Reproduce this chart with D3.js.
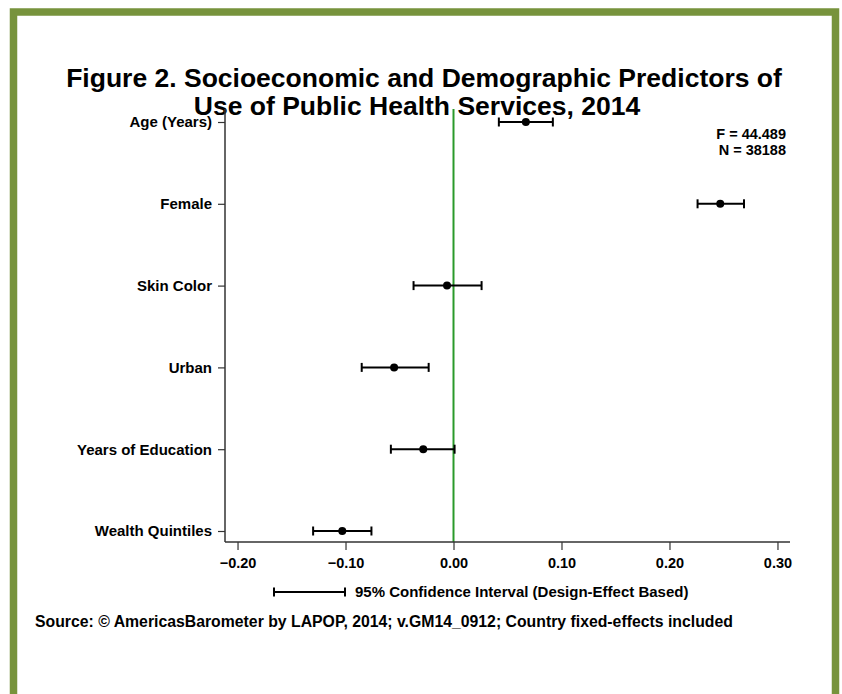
<!DOCTYPE html>
<html>
<head>
<meta charset="utf-8">
<script src="https://cdn.jsdelivr.net/npm/d3@7"></script>
<style>
  html, body { margin: 0; padding: 0; background: #fff; }
  svg { display: block; font-family: "Liberation Sans", Arial, sans-serif; }
</style>
</head>
<body>
<svg id="chart" width="842" height="694"></svg>
<script>
// Predictors (top to bottom) with coefficient and 95% CI bounds
const predictors = ["Age (Years)", "Female", "Skin Color", "Urban", "Years of Education", "Wealth Quintiles"];
const coefficients = [0.067, 0.247, -0.006, -0.055, -0.028, -0.103];
const ciLower = [0.042, 0.226, -0.037, -0.085, -0.058, -0.130];
const ciUpper = [0.092, 0.269, 0.026, -0.023, 0.001, -0.076];
const xTicks = [-0.20, -0.10, 0.00, 0.10, 0.20, 0.30];
const statsLines = ["F = 44.489", "N = 38188"];

const svg = d3.select("#chart");

// Olive frame around the figure (open at the bottom of the page)
svg.append("path")
  .attr("d", "M13.5,700 L13.5,12 L835.5,12 L835.5,700")
  .attr("fill", "none")
  .attr("stroke", "#77933c")
  .attr("stroke-width", 7.5);

// Title
const title = svg.append("text")
  .attr("text-anchor", "middle")
  .attr("font-weight", "bold")
  .attr("font-size", 26.5)
  .attr("fill", "#000");
title.append("tspan").attr("x", 424).attr("y", 87).text("Figure 2. Socioeconomic and Demographic Predictors of");
title.append("tspan").attr("x", 417).attr("y", 114.5).text("Use of Public Health Services, 2014");

// Plot area
const plotLeft = 225, plotRight = 790, plotTop = 109, plotBottom = 542;
const x = d3.scaleLinear().domain([-0.2116, 0.3116]).range([plotLeft, plotRight]);
const y = d3.scalePoint().domain(predictors).range([122, 531]);

// Zero reference line
svg.append("line")
  .attr("x1", x(0)).attr("x2", x(0))
  .attr("y1", plotTop).attr("y2", plotBottom)
  .attr("stroke", "#2a9a2a")
  .attr("stroke-width", 2);

const labelFont = "'Liberation Sans', Arial, sans-serif";

// Y axis
const yAxis = svg.append("g")
  .attr("transform", `translate(${plotLeft},0)`)
  .call(d3.axisLeft(y).tickSize(7).tickPadding(6).tickSizeOuter(0));
yAxis.select(".domain").remove();
yAxis.append("line").attr("x1", 0).attr("x2", 0).attr("y1", plotTop).attr("y2", plotBottom)
  .attr("stroke", "#333").attr("stroke-width", 1.5);
yAxis.selectAll(".tick line").attr("stroke", "#333").attr("stroke-width", 1.2);
yAxis.selectAll(".tick text")
  .attr("font-family", labelFont)
  .attr("font-size", 15).attr("font-weight", "bold").attr("fill", "#000");

// X axis
const xAxis = svg.append("g")
  .attr("transform", `translate(0,${plotBottom})`)
  .call(d3.axisBottom(x).tickValues(xTicks).tickFormat(d3.format(".2f")).tickSize(8).tickPadding(8).tickSizeOuter(0));
xAxis.select(".domain").remove();
xAxis.append("line").attr("x1", plotLeft).attr("x2", plotRight).attr("y1", 0).attr("y2", 0)
  .attr("stroke", "#333").attr("stroke-width", 1.5);
xAxis.selectAll(".tick line").attr("stroke", "#333").attr("stroke-width", 1.2);
xAxis.selectAll(".tick text")
  .attr("font-family", labelFont)
  .attr("font-size", 14.5).attr("font-weight", "bold").attr("fill", "#000");

// Confidence intervals and point estimates
const rows = predictors.map((p, i) => ({ p, est: coefficients[i], lo: ciLower[i], hi: ciUpper[i] }));
const g = svg.append("g");
const cap = 4.5;
rows.forEach(r => {
  const yy = y(r.p);
  g.append("line").attr("x1", x(r.lo)).attr("x2", x(r.hi)).attr("y1", yy).attr("y2", yy)
    .attr("stroke", "#000").attr("stroke-width", 2);
  [r.lo, r.hi].forEach(v => {
    g.append("line").attr("x1", x(v)).attr("x2", x(v)).attr("y1", yy - cap).attr("y2", yy + cap)
      .attr("stroke", "#000").attr("stroke-width", 2);
  });
  g.append("circle").attr("cx", x(r.est)).attr("cy", yy).attr("r", 4).attr("fill", "#000");
});

// Model statistics
const stats = svg.append("text")
  .attr("text-anchor", "end")
  .attr("font-weight", "bold")
  .attr("font-size", 14.5);
statsLines.forEach((s, i) => {
  stats.append("tspan").attr("x", 786).attr("y", 139 + i * 16).text(s);
});

// Legend
const legY = 592;
svg.append("line").attr("x1", 274).attr("x2", 345).attr("y1", legY).attr("y2", legY)
  .attr("stroke", "#000").attr("stroke-width", 2);
[274, 345].forEach(xx => {
  svg.append("line").attr("x1", xx).attr("x2", xx).attr("y1", legY - cap).attr("y2", legY + cap)
    .attr("stroke", "#000").attr("stroke-width", 2);
});
svg.append("text").attr("x", 355).attr("y", legY + 5)
  .attr("font-weight", "bold").attr("font-size", 15)
  .text("95% Confidence Interval (Design-Effect Based)");

// Source note
svg.append("text").attr("x", 35).attr("y", 627)
  .attr("font-weight", "bold").attr("font-size", 15.8)
  .text("Source: © AmericasBarometer by LAPOP, 2014; v.GM14_0912; Country fixed-effects included");
</script>
</body>
</html>
